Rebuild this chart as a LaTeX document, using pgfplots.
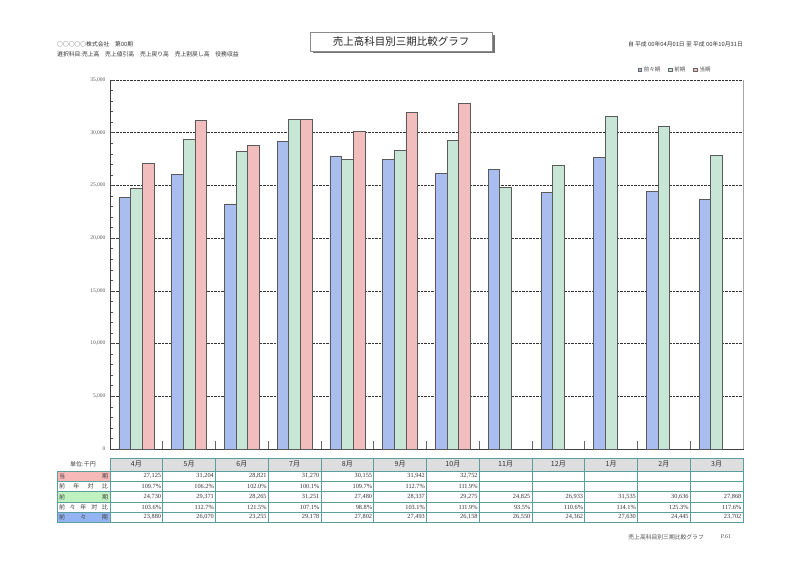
\documentclass[border=0pt]{standalone}
\usepackage{pgfplots}
\pgfplotsset{compat=1.18}
\usepackage{fontspec}
\setmainfont{Liberation Serif}
\newfontfamily\cjk{Noto Sans CJK JP}
\definecolor{bblue}{HTML}{A9BEEF}
\definecolor{bgreen}{HTML}{C8E6D6}
\definecolor{bpink}{HTML}{F2BDBD}
\definecolor{edgec}{HTML}{5A5A5A}
\definecolor{tealb}{HTML}{5A9E9E}
\definecolor{hdr}{HTML}{DEDEDE}
\definecolor{lpink}{HTML}{F7B8B8}
\definecolor{lgreen}{HTML}{C0F2C0}
\definecolor{lblue}{HTML}{93B3F2}
\begin{document}
\begin{tikzpicture}
\fill[white] (0,0) rectangle (800pt,566pt);
\useasboundingbox (0,0) rectangle (800pt,566pt);
\begin{axis}[
  at={(110pt,117pt)}, anchor=south west,
  scale only axis, width=633pt, height=369pt,
  xmin=-0.5, xmax=11.5, ymin=0, ymax=35000,
  ybar, bar width=11.7pt,
  axis x line*=bottom, axis y line*=left,
  axis line style={-, draw=black!75, line width=0.6pt},
  tick align=inside,
  major tick length=4pt, minor tick length=2.5pt,
  xtick={0.5,1.5,...,10.5}, xticklabels={},
  xtick style={draw=black!60, line width=0.8pt, /pgfplots/major tick length=8pt},
  ytick={0,5000,...,35000},
  minor ytick={0,1000,...,35000},
  scaled y ticks=false,
  ytick style={draw=black!70, line width=0.5pt},
  ymajorgrids,
  major grid style={densely dotted, black!80, line width=0.7pt},
  yticklabel style={font=\fontsize{5.5}{6}\selectfont, text=black!65, xshift=-1pt},
  /pgf/number format/1000 sep={,},
  /pgf/number format/assume math mode=true,
  legend style={font=\cjk\fontsize{5.5}{6}\selectfont, text=black!70, draw=none, fill=none,
    at={(0.957,1)}, anchor=south east, yshift=3pt,
    /tikz/every even column/.append style={column sep=6pt}},
  legend columns=3,
  legend image code/.code={\draw[#1, draw=black!60, line width=0.5pt] (0pt,-1.8pt) rectangle (3.6pt,1.8pt);},
  clip=false,
]
\addplot[fill=bblue, draw=edgec, line width=0.6pt, bar shift=-11.7pt] table[x=x,y=y] {
x y
0 23880
1 26070
2 23255
3 29178
4 27802
5 27493
6 26158
7 26550
8 24362
9 27630
10 24445
11 23702
};
\addplot[fill=bgreen, draw=edgec, line width=0.6pt, bar shift=0pt] table[x=x,y=y] {
x y
0 24730
1 29371
2 28265
3 31251
4 27480
5 28337
6 29275
7 24825
8 26933
9 31535
10 30636
11 27868
};
\addplot[fill=bpink, draw=edgec, line width=0.6pt, bar shift=11.7pt] table[x=x,y=y] {
x y
0 27125
1 31204
2 28821
3 31270
4 30155
5 31942
6 32752
};
\legend{前々期,前期,当期}
\draw[black!35, line width=0.6pt] (rel axis cs:1,0) -- (rel axis cs:1,1);
\end{axis}
\begin{scope}[shift={(0,566pt)}, x=1pt, y=-1pt]
% title box
\fill[black!55] (312.5,35) rectangle (494.5,53.5);
\draw[fill=white, draw=black!45, line width=0.5pt] (310,32.5) rectangle (492,51);
\node[font=\cjk\fontsize{10.5}{12}\selectfont, text=black!85] at (401,41.5) {売上高科目別三期比較グラフ};
% header texts
\node[anchor=west, font=\cjk\fontsize{5.8}{7}\selectfont, text=black!80, inner sep=0pt] at (57,44) {○○○○○株式会社　第00期};
\node[anchor=west, font=\cjk\fontsize{5.8}{7}\selectfont, text=black!80, inner sep=0pt] at (57,54) {選択科目:売上高　売上値引高　売上戻り高　売上割戻し高　役務収益};
\node[anchor=east, font=\cjk\fontsize{5.8}{7}\selectfont, text=black!80, inner sep=0pt] at (743,44) {自 平成 00年04月01日 至 平成 00年10月31日};
% table header
\node[font=\cjk\fontsize{6}{7}\selectfont, text=black!75] at (83,464.5) {単位:千円};
\foreach \m [count=\i from 0] in {4月,5月,6月,7月,8月,9月,10月,11月,12月,1月,2月,3月} {
  \draw[fill=hdr, draw=tealb, line width=0.8pt] ({110+52.75*\i},458) rectangle ({110+52.75*(\i+1)},471);
  \node[font=\cjk\fontsize{7}{8}\selectfont, text=black!80] at ({110+52.75*(\i+0.5)},464.5) {\m};
}
% body cells
\fill[lpink] (57,471) rectangle (110,481.3);
\fill[lgreen] (57,491.6) rectangle (110,501.9);
\fill[lblue] (57,512.2) rectangle (110,522.5);
\foreach \r in {0,...,4} {
  \draw[draw=tealb, line width=0.8pt] (57,{471+10.3*\r}) rectangle (110,{471+10.3*(\r+1)});
  \foreach \c in {0,...,11} {
    \draw[draw=tealb, line width=0.8pt] ({110+52.75*\c},{471+10.3*\r}) rectangle ({110+52.75*(\c+1)},{471+10.3*(\r+1)});
  }
}
\tikzset{lab/.style={font=\cjk\fontsize{6}{7}\selectfont, text=black!75, inner sep=0pt}}
\node[lab] at (83.5,476.15) {\makebox[49pt][s]{当\hfill 期}};
\node[lab] at (83.5,486.45) {\makebox[49pt][s]{前\hfill 年\hfill 対\hfill 比}};
\node[lab] at (83.5,496.75) {\makebox[49pt][s]{前\hfill 期}};
\node[lab] at (83.5,507.05) {\makebox[49pt][s]{前\hfill 々\hfill 年\hfill 対\hfill 比}};
\node[lab] at (83.5,517.35) {\makebox[49pt][s]{前\hfill 々\hfill 期}};
\tikzset{val/.style={font=\fontsize{6.3}{7}\selectfont, text=black!80, anchor=east, inner sep=0pt}}
\foreach \v [count=\c from 0] in {{27,125},{31,204},{28,821},{31,270},{30,155},{31,942},{32,752}}
  \node[val] at ({110+52.75*(\c+1)-1.5},476.15) {\v};
\foreach \v [count=\c from 0] in {{109.7\%},{106.2\%},{102.0\%},{100.1\%},{109.7\%},{112.7\%},{111.9\%}}
  \node[val] at ({110+52.75*(\c+1)-1.5},486.45) {\v};
\foreach \v [count=\c from 0] in {{24,730},{29,371},{28,265},{31,251},{27,480},{28,337},{29,275},{24,825},{26,933},{31,535},{30,636},{27,868}}
  \node[val] at ({110+52.75*(\c+1)-1.5},496.75) {\v};
\foreach \v [count=\c from 0] in {{103.6\%},{112.7\%},{121.5\%},{107.1\%},{98.8\%},{103.1\%},{111.9\%},{93.5\%},{110.6\%},{114.1\%},{125.3\%},{117.6\%}}
  \node[val] at ({110+52.75*(\c+1)-1.5},507.05) {\v};
\foreach \v [count=\c from 0] in {{23,880},{26,070},{23,255},{29,178},{27,802},{27,493},{26,158},{26,550},{24,362},{27,630},{24,445},{23,702}}
  \node[val] at ({110+52.75*(\c+1)-1.5},517.35) {\v};
% footer
\node[anchor=east, font=\cjk\fontsize{5.8}{7}\selectfont, text=black!70, inner sep=0pt] at (704,537) {売上高科目別三期比較グラフ};
\node[anchor=east, font=\fontsize{5.8}{7}\selectfont, text=black!70, inner sep=0pt] at (731,537) {P.61};
\end{scope}
\end{tikzpicture}
\end{document}
